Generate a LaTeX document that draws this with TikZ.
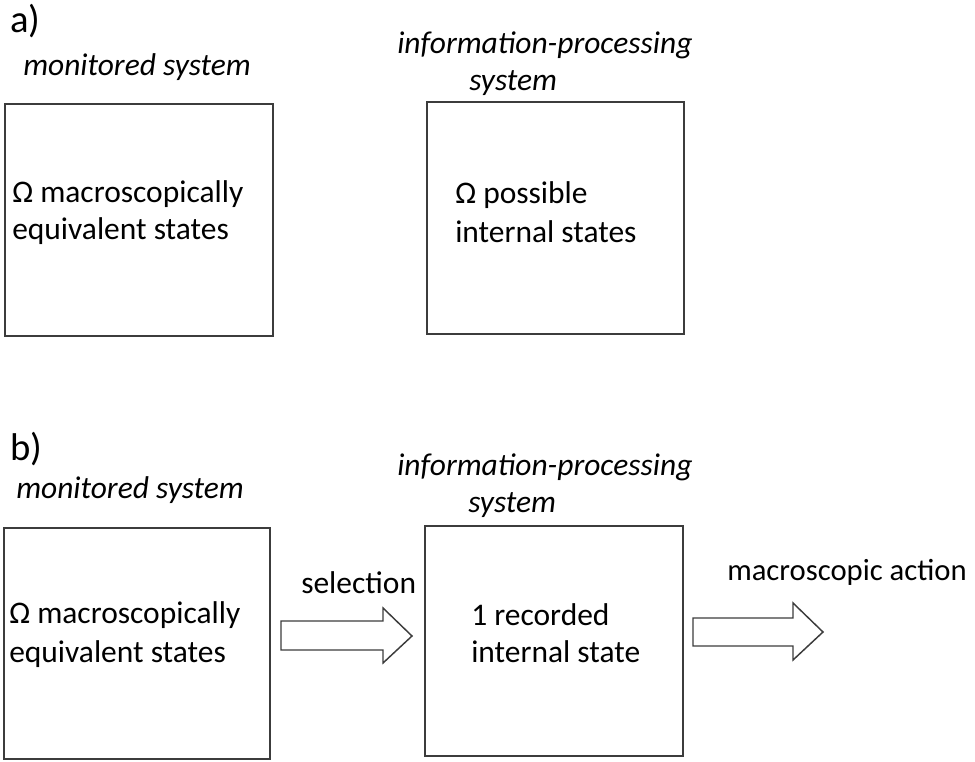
\documentclass[tikz,border=0pt]{standalone}
\usepackage{fontspec}
\setmainfont{Carlito}
\definecolor{linegray}{HTML}{3C3C3C}
\begin{document}
\begin{tikzpicture}[x=0.75pt,y=-0.75pt,
  boxst/.style={draw=linegray, line width=1.5pt, rectangle, inner sep=0pt, anchor=north west},
  txt/.style={anchor=base west, inner sep=0pt, text=black, font=\fontsize{23.6}{29}\selectfont},
  ital/.style={anchor=base west, inner sep=0pt, text=black, font=\fontsize{23.6}{29}\selectfont\itshape},
  lab/.style={anchor=base west, inner sep=0pt, text=black, font=\fontsize{29}{35}\selectfont},
  blockarrow/.style={draw=linegray, line width=1.1pt, fill=white, line join=miter}]
\useasboundingbox (0,0) rectangle (975,761);
% part a
\node[lab] (la) at (10,32) {a)};
\node[ital] (ma) at (23,75) {monitored system};
\node[ital] (ia1) at (397,53) {information-processing};
\node[ital] (ia2) at (469,90) {system};
\node[boxst, minimum width=201pt, minimum height=174pt] (a1) at (4,103) {};
\node[boxst, minimum width=192.75pt, minimum height=174pt] (a2) at (426,101) {};
\node[txt] (ta1) at (12,202) {Ω macroscopically};
\node[txt] (ta2) at (12,239) {equivalent states};
\node[txt] (tp1) at (455,203) {Ω possible};
\node[txt] (tp2) at (455,242) {internal states};
% part b
\node[lab] (lb) at (10,460) {b)};
\node[ital] (mb) at (16,498) {monitored system};
\node[ital] (ib1) at (397,475) {information-processing};
\node[ital] (ib2) at (468,512) {system};
\node[boxst, minimum width=199.5pt, minimum height=173.25pt] (b1) at (3,527) {};
\node[boxst, minimum width=193.5pt, minimum height=172.5pt] (b2) at (424,525) {};
\node[txt] (tb1) at (9,623) {Ω macroscopically};
\node[txt] (tb2) at (9,662) {equivalent states};
\node[txt] (sel) at (301,593) {selection};
\node[txt] (tr1) at (471,625) {1 recorded};
\node[txt] (tr2) at (471,662) {internal state};
\node[txt, font=\fontsize{23}{29}\selectfont] (act) at (727,580) {macroscopic action};
% block arrows
\draw[blockarrow] (281,621) -- (383,621) -- (383,608) -- (412,636) -- (383,663) -- (383,650) -- (281,650) -- cycle;
\draw[blockarrow] (693,618) -- (793,618) -- (793,603) -- (823,632) -- (793,660) -- (793,646) -- (693,646) -- cycle;
\end{tikzpicture}
\end{document}
